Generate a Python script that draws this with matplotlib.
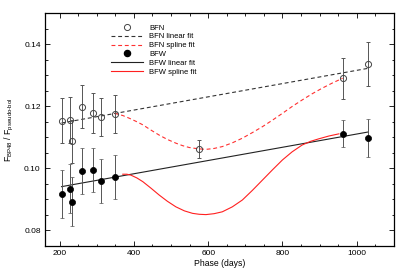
import numpy as np
import matplotlib
matplotlib.use('Agg')
import matplotlib.pyplot as plt
from matplotlib.lines import Line2D

plt.rcParams['font.family'] = ['Liberation Sans', 'DejaVu Sans']
plt.rcParams['mathtext.fontset'] = 'custom'
plt.rcParams['mathtext.rm'] = 'Liberation Sans'
plt.rcParams['mathtext.it'] = 'Liberation Sans:italic'

# Data
bfn_phase = [205, 228, 233, 260, 290, 312, 348, 574, 962, 1031]
bfn_ratio = [0.1153, 0.1157, 0.1087, 0.1198, 0.1179, 0.1165, 0.1176, 0.1063, 0.1290, 0.1335]
bfn_err = [0.0072, 0.0074, 0.0070, 0.0069, 0.0065, 0.0061, 0.0061, 0.0029, 0.0066, 0.0071]

bfw_phase = [205, 228, 233, 260, 290, 312, 348, 962, 1031]
bfw_ratio = [0.0918, 0.0935, 0.0893, 0.0992, 0.0996, 0.0959, 0.0971, 0.1112, 0.1098]
bfw_err = [0.0078, 0.0080, 0.0078, 0.0074, 0.0071, 0.0071, 0.0071, 0.0042, 0.0060]

# linear fits (end points)
lin_phase = [205, 1031]
bfn_lin = [0.1146, 0.1322]
bfw_lin = [0.0941, 0.1117]

# spline fits
bfn_spl_phase = [348, 370, 388, 406, 424, 446, 468, 490, 513, 531, 549, 572, 594, 616,
                 638, 665, 692, 719, 746, 773, 800, 826, 853, 880, 907, 935, 962]
bfn_spl = [0.1177, 0.1170, 0.1161, 0.1151, 0.1140, 0.1123, 0.1107, 0.1093, 0.1081, 0.1073,
           0.1067, 0.1063, 0.1061, 0.1064, 0.1070, 0.1082, 0.1097, 0.1115, 0.1134, 0.1155,
           0.1177, 0.1199, 0.1220, 0.1240, 0.1258, 0.1275, 0.1290]
bfw_spl_phase = [370, 381, 392, 408, 424, 446, 468, 490, 513, 536, 558, 576, 594, 616,
                 638, 665, 692, 719, 746, 773, 800, 826, 853, 876, 898, 925, 952]
bfw_spl = [0.0981, 0.0981, 0.0978, 0.0969, 0.0957, 0.0936, 0.0914, 0.0894, 0.0876, 0.0863,
           0.0855, 0.0852, 0.0851, 0.0854, 0.0860, 0.0876, 0.0898, 0.0929, 0.0962, 0.0995,
           0.1027, 0.1053, 0.1075, 0.1087, 0.1095, 0.1104, 0.1111]

fig = plt.figure(figsize=(4.15, 2.77), dpi=100)
ax = fig.add_axes([0.108, 0.112, 0.841, 0.841])

# fits
ax.plot(lin_phase, bfn_lin, color='#333333', lw=0.8, ls=(0, (3.5, 2.5)), zorder=2)
ax.plot(lin_phase, bfw_lin, color='#222222', lw=0.8, zorder=2)
ax.plot(bfn_spl_phase, bfn_spl, color='#ff3030', lw=0.8, ls=(0, (3.5, 2.5)), zorder=2)
ax.plot(bfw_spl_phase, bfw_spl, color='#ff2020', lw=0.8, zorder=2)

# data with error bars
ax.errorbar(bfn_phase, bfn_ratio, yerr=bfn_err, fmt='o', ms=4.4, mfc='none', mec='#444444',
            mew=0.7, ecolor='#555555', elinewidth=0.7, capsize=1.7, capthick=0.7, zorder=3)
ax.errorbar(bfw_phase, bfw_ratio, yerr=bfw_err, fmt='o', ms=4.4, mfc='black', mec='black',
            mew=0.5, ecolor='#555555', elinewidth=0.7, capsize=1.7, capthick=0.7, zorder=3)

ax.set_xlim(160, 1100)
ax.set_ylim(0.075, 0.150)
ax.set_xticks([200, 400, 600, 800, 1000])
ax.set_xticks(np.arange(200, 1100, 50), minor=True)
ax.set_yticks([0.08, 0.10, 0.12, 0.14])
ax.set_yticks(np.arange(0.08, 0.1501, 0.005), minor=True)
ax.set_yticklabels(['0.08', '0.10', '0.12', '0.14'])
ax.tick_params(which='both', direction='in', top=True, right=True, labelsize=6)
ax.tick_params(which='major', length=3.5, width=0.6, pad=3)
ax.tick_params(which='minor', length=1.8, width=0.6)
for s in ax.spines.values():
    s.set_linewidth(0.9)

ax.set_xlabel('Phase (days)', fontsize=6.2, labelpad=1)
ax.set_ylabel(r'F$_{\mathrm{BP48}}$ / F$_{\mathrm{pseudo\text{-}bol}}$', fontsize=6.2, labelpad=6)

handles = [
    Line2D([], [], ls='none', marker='o', ms=4.4, mfc='none', mec='#444444', mew=0.7),
    Line2D([], [], color='#333333', lw=0.8, ls=(0, (3.5, 2.5))),
    Line2D([], [], color='#ff3030', lw=0.8, ls=(0, (3.5, 2.5))),
    Line2D([], [], ls='none', marker='o', ms=4.4, mfc='black', mec='black'),
    Line2D([], [], color='#222222', lw=0.8),
    Line2D([], [], color='#ff2020', lw=0.8),
]
labels = ['BFN', 'BFN linear fit', 'BFN spline fit', 'BFW', 'BFW linear fit', 'BFW spline fit']
ax.legend(handles, labels, loc='upper left', bbox_to_anchor=(0.175, 0.975), frameon=False,
          fontsize=5.5, handlelength=4.1, handletextpad=0.9, labelspacing=0.2,
          borderpad=0.2, numpoints=1)

fig.savefig('out.png', dpi=100)
